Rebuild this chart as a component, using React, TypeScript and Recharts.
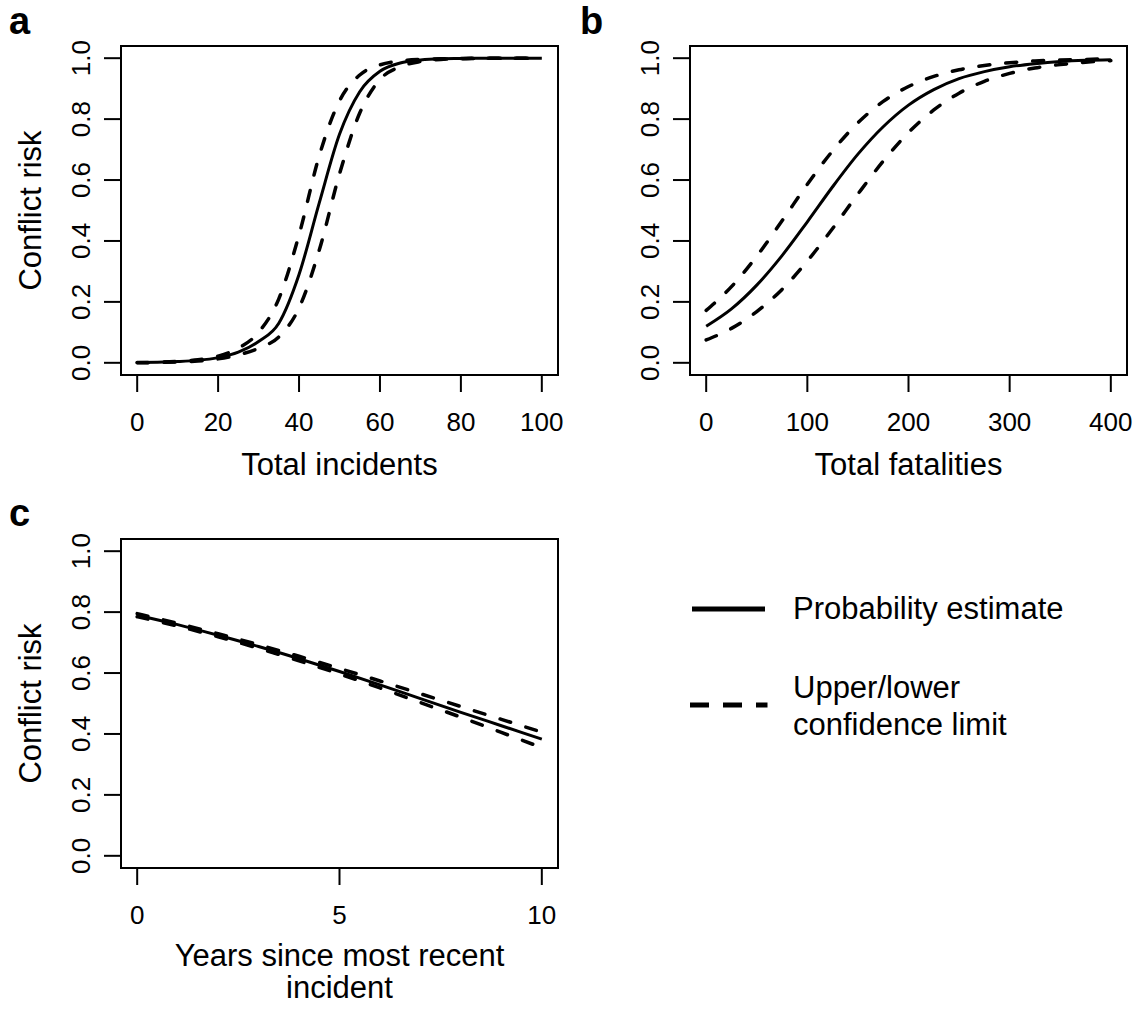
import React from 'react';
import { LineChart, Line, XAxis, YAxis, ReferenceArea, Label } from 'recharts';

// panel a: total incidents
const incidents = [0, 5, 10, 15, 20, 25, 30, 35, 40, 45, 50, 55, 60, 65, 70, 75, 80, 85, 90, 95, 100];
const incidentsFit = [0.001, 0.002, 0.004, 0.008, 0.017, 0.035, 0.07, 0.13, 0.29, 0.525, 0.75, 0.89, 0.957, 0.984, 0.994, 0.998, 0.999, 1, 1, 1, 1];
const incidentsUpper = [0.001, 0.002, 0.005, 0.01, 0.022, 0.048, 0.1, 0.21, 0.42, 0.68, 0.86, 0.945, 0.978, 0.991, 0.996, 0.998, 0.999, 1, 1, 1, 1];
const incidentsLower = [0, 0.001, 0.003, 0.006, 0.013, 0.026, 0.048, 0.085, 0.18, 0.37, 0.62, 0.82, 0.93, 0.972, 0.989, 0.996, 0.998, 0.999, 1, 1, 1];

// panel b: total fatalities
const fatalities = [0, 25, 50, 75, 100, 125, 150, 175, 200, 225, 250, 275, 300, 325, 350, 375, 400];
const fatalitiesFit = [0.12, 0.177, 0.255, 0.352, 0.463, 0.578, 0.685, 0.775, 0.846, 0.897, 0.933, 0.956, 0.972, 0.982, 0.989, 0.993, 0.995];
const fatalitiesUpper = [0.172, 0.25, 0.35, 0.466, 0.586, 0.696, 0.788, 0.858, 0.907, 0.94, 0.962, 0.976, 0.985, 0.991, 0.994, 0.996, 0.998];
const fatalitiesLower = [0.075, 0.113, 0.168, 0.241, 0.334, 0.441, 0.554, 0.662, 0.756, 0.83, 0.885, 0.924, 0.95, 0.968, 0.979, 0.987, 0.992];

// panel c: years since most recent incident
const years = [0, 1, 2, 3, 4, 5, 6, 7, 8, 9, 10];
const yearsFit = [0.79, 0.759, 0.724, 0.687, 0.647, 0.605, 0.561, 0.516, 0.471, 0.427, 0.383];
const yearsUpper = [0.795, 0.763, 0.729, 0.693, 0.655, 0.615, 0.574, 0.532, 0.49, 0.448, 0.406];
const yearsLower = [0.785, 0.754, 0.719, 0.681, 0.64, 0.597, 0.551, 0.503, 0.455, 0.405, 0.355];

const riskTicks = [0, 0.2, 0.4, 0.6, 0.8, 1];
const incidentTicks = [0, 20, 40, 60, 80, 100];
const fatalityTicks = [0, 100, 200, 300, 400];
const yearTicks = [0, 5, 10];

const FONT = '"Liberation Sans", Arial, Helvetica, sans-serif';
const DASH = '11 16';

const rows = (xs: number[], fit: number[], upper: number[], lower: number[]) =>
  xs.map((x, i) => ({ x, fit: fit[i], upper: upper[i], lower: lower[i] }));

const XTick = ({ x, y, payload }: any) => (
  <g>
    <line x1={x} x2={x} y1={y} y2={y + 17} stroke="#000" strokeWidth={2} />
    <text x={x} y={y + 56} textAnchor="middle" fontSize={26} fontFamily={FONT} fill="#000">
      {payload.value}
    </text>
  </g>
);

const YTick = ({ x, y, payload }: any) => (
  <g>
    <line x1={x - 17} x2={x} y1={y} y2={y} stroke="#000" strokeWidth={2} />
    <text
      x={x - 31}
      y={y}
      transform={`rotate(-90, ${x - 31}, ${y})`}
      textAnchor="middle"
      fontSize={26}
      fontFamily={FONT}
      fill="#000"
    >
      {Number(payload.value).toFixed(1)}
    </text>
  </g>
);

const xTitle = (lines: string[]) => (props: any) => {
  const vb = props.viewBox || {};
  const cx = vb.x + vb.width / 2;
  return (
    <text textAnchor="middle" fontSize={31} fontFamily={FONT} fill="#000">
      {lines.map((t, i) => (
        <tspan key={t} x={cx} y={vb.y + (lines.length > 1 ? 98 : 100) + i * 32}>
          {t}
        </tspan>
      ))}
    </text>
  );
};

const yTitle = (props: any) => {
  const vb = props.viewBox || {};
  const tx = vb.x + 41;
  const ty = vb.y + vb.height / 2;
  return (
    <text x={tx} y={ty} transform={`rotate(-90, ${tx}, ${ty})`} textAnchor="middle" fontSize={31} fontFamily={FONT} fill="#000">
      Conflict risk
    </text>
  );
};

function LegendBox() {
  return (
    <svg width={440} height={170} style={{ position: 'absolute', left: 688, top: 589, overflow: 'visible' }}>
      <line x1={4} x2={77} y1={20} y2={20} stroke="#000" strokeWidth={5} />
      <text x={105} y={30} fontSize={31} fontFamily={FONT} fill="#000">Probability estimate</text>
      <line x1={4.5} x2={77} y1={116} y2={116} stroke="#000" strokeWidth={5} strokeDasharray="14 19" strokeLinecap="square" />
      <text x={105} y={109} fontSize={31} fontFamily={FONT} fill="#000">Upper/lower</text>
      <text x={105} y={146} fontSize={31} fontFamily={FONT} fill="#000">confidence limit</text>
    </svg>
  );
}

interface PanelProps {
  data: { x: number; fit: number; upper: number; lower: number }[];
  xDomain: [number, number];
  xTicks: number[];
  title: string[];
  showYTitle: boolean;
  width: number;
  height: number;
  rightMargin: number;
}

function Panel({ data, xDomain, xTicks, title, showYTitle, width, height, rightMargin }: PanelProps) {
  return (
    <LineChart width={width} height={height} data={data} margin={{ top: 46, right: rightMargin, bottom: 0, left: 0 }}>
      <XAxis
        dataKey="x"
        type="number"
        domain={xDomain}
        ticks={xTicks}
        interval={0}
        allowDataOverflow
        height={height - 375}
        axisLine={false}
        tickLine={false}
        tickSize={0}
        tickMargin={0}
        tick={<XTick />}
      >
        <Label content={xTitle(title)} />
      </XAxis>
      <YAxis
        type="number"
        domain={[-0.04, 1.04]}
        ticks={riskTicks}
        interval={0}
        allowDataOverflow
        width={121}
        axisLine={false}
        tickLine={false}
        tickSize={0}
        tickMargin={0}
        tick={<YTick />}
      >
        {showYTitle && <Label content={yTitle} />}
      </YAxis>
      <Line type="monotone" dataKey="upper" stroke="#000" strokeWidth={3.5} strokeDasharray={DASH} strokeLinecap="round" dot={false} isAnimationActive={false} />
      <Line type="monotone" dataKey="lower" stroke="#000" strokeWidth={3.5} strokeDasharray={DASH} strokeLinecap="round" dot={false} isAnimationActive={false} />
      <Line type="monotone" dataKey="fit" stroke="#000" strokeWidth={3} dot={false} isAnimationActive={false} />
      <ReferenceArea x1={xDomain[0]} x2={xDomain[1]} y1={-0.04} y2={1.04} fill="none" stroke="#000" strokeWidth={2} ifOverflow="visible" />
    </LineChart>
  );
}

const letterStyle: React.CSSProperties = {
  position: 'absolute',
  fontFamily: FONT,
  fontWeight: 'bold',
  fontSize: 38,
  lineHeight: '38px',
  color: '#000',
};

export default function App() {
  return (
    <div style={{ position: 'absolute', left: 0, top: 0, width: 1135, height: 1010, background: '#fff', overflow: 'hidden' }}>
      <div style={{ position: 'absolute', left: 0, top: 0 }}>
        <Panel
          data={rows(incidents, incidentsFit, incidentsUpper, incidentsLower)}
          xDomain={[-4, 104]}
          xTicks={incidentTicks}
          title={['Total incidents']}
          showYTitle
          width={570}
          height={490}
          rightMargin={12}
        />
      </div>
      <div style={{ position: 'absolute', left: 569, top: 0 }}>
        <Panel
          data={rows(fatalities, fatalitiesFit, fatalitiesUpper, fatalitiesLower)}
          xDomain={[-16, 416]}
          xTicks={fatalityTicks}
          title={['Total fatalities']}
          showYTitle={false}
          width={566}
          height={490}
          rightMargin={8}
        />
      </div>
      <div style={{ position: 'absolute', left: 0, top: 493 }}>
        <Panel
          data={rows(years, yearsFit, yearsUpper, yearsLower)}
          xDomain={[-0.4, 10.4]}
          xTicks={yearTicks}
          title={['Years since most recent', 'incident']}
          showYTitle
          width={570}
          height={517}
          rightMargin={12}
        />
      </div>
      <LegendBox />
      <div style={{ ...letterStyle, left: 9, top: 2 }}>a</div>
      <div style={{ ...letterStyle, left: 580, top: 2 }}>b</div>
      <div style={{ ...letterStyle, left: 9, top: 494 }}>c</div>
    </div>
  );
}
